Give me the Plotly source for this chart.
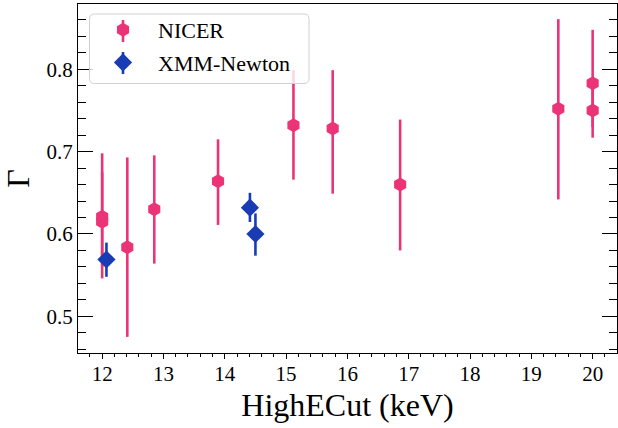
import plotly.graph_objects as go

# NICER data
nicer_x = [12.0, 12.0, 12.41, 12.85, 13.89, 15.12, 15.76, 16.86, 19.44, 20.0, 20.0]
nicer_y = [0.621, 0.615, 0.584, 0.630, 0.664, 0.732, 0.728, 0.660, 0.752, 0.783, 0.750]
nicer_hi = [0.698, 0.675, 0.693, 0.6955, 0.715, 0.799, 0.799, 0.739, 0.861, 0.848, 0.780]
nicer_lo = [0.560, 0.546, 0.475, 0.564, 0.611, 0.666, 0.649, 0.580, 0.642, 0.730, 0.717]

# XMM-Newton data
xmm_x = [12.07, 14.41, 14.50]
xmm_y = [0.569, 0.632, 0.600]
xmm_hi = [0.5895, 0.650, 0.625]
xmm_lo = [0.548, 0.6146, 0.5737]

PINK = "#EB3478"
BLUE = "#193CB4"
FONT = "Liberation Serif"

W, H = 618, 428
ML, MR, MT, MB = 78, 1, 4, 75
PW, PH = W - ML - MR, H - MT - MB


def px(x):
    return (x - ML) / PW


def py(y):
    return (H - MB - y) / PH


fig = go.Figure()
fig.add_trace(go.Scatter(
    x=nicer_x, y=nicer_y, mode="markers", name="NICER", legendgroup="a",
    marker=dict(symbol="hexagon", size=14, color=PINK),
    error_y=dict(type="data", symmetric=False,
                 array=[h - y for h, y in zip(nicer_hi, nicer_y)],
                 arrayminus=[y - l for l, y in zip(nicer_lo, nicer_y)],
                 thickness=2.6, width=0, color=PINK),
))
fig.add_trace(go.Scatter(
    x=xmm_x, y=xmm_y, mode="markers", name="XMM-Newton", legendgroup="b",
    marker=dict(symbol="diamond", size=14, color=BLUE),
    error_y=dict(type="data", symmetric=False,
                 array=[h - y for h, y in zip(xmm_hi, xmm_y)],
                 arrayminus=[y - l for l, y in zip(xmm_lo, xmm_y)],
                 thickness=2.6, width=0, color=BLUE),
))

# rounded, semi-transparent legend frame
x0, x1, y0, y1, r = 89.5, 309, 14, 83.5, 5
path = (f"M{px(x0 + r)},{py(y0)} L{px(x1 - r)},{py(y0)} Q{px(x1)},{py(y0)} {px(x1)},{py(y0 + r)} "
        f"L{px(x1)},{py(y1 - r)} Q{px(x1)},{py(y1)} {px(x1 - r)},{py(y1)} "
        f"L{px(x0 + r)},{py(y1)} Q{px(x0)},{py(y1)} {px(x0)},{py(y1 - r)} "
        f"L{px(x0)},{py(y0 + r)} Q{px(x0)},{py(y0)} {px(x0 + r)},{py(y0)} Z")
shapes = [dict(type="path", xref="paper", yref="paper", path=path,
               fillcolor="rgba(255,255,255,0.8)", line=dict(color="#d0d0d0", width=1),
               layer="above")]
# error-bar strokes of the legend handles
for cx, cy, col in [(123, 31, PINK), (123, 63, BLUE)]:
    shapes.append(dict(type="line", xref="paper", yref="paper",
                       x0=px(cx), x1=px(cx), y0=py(cy - 11), y1=py(cy + 11),
                       line=dict(color=col, width=2.6), layer="above"))

fig.update_layout(
    width=W, height=H,
    margin=dict(l=ML, r=MR, t=MT, b=MB),
    paper_bgcolor="white", plot_bgcolor="white",
    font=dict(family=FONT, color="black", size=21),
    showlegend=True,
    shapes=shapes,
    legend=dict(x=px(88), y=py(9), xanchor="left", yanchor="top",
                bgcolor="rgba(0,0,0,0)", borderwidth=0,
                font=dict(family=FONT, size=22), itemwidth=60, tracegroupgap=1),
)
fig.update_xaxes(
    range=[11.606, 20.397], dtick=1, tick0=12,
    ticks="outside", ticklen=5, tickwidth=1.2, tickcolor="black",
    minor=dict(dtick=0.2, ticks="outside", ticklen=3, tickwidth=1, tickcolor="black"),
    showline=True, linecolor="black", linewidth=1.2, mirror=True,
    showgrid=False, zeroline=False, ticklabelstandoff=-3,
    title=dict(text="HighECut (keV)", font=dict(family=FONT, size=32), standoff=8),
)
fig.update_yaxes(
    range=[0.4554, 0.8794], dtick=0.1, tick0=0.5, tickformat=".1f",
    ticks="inside", ticklen=15, tickwidth=1.2, tickcolor="black",
    minor=dict(dtick=0.02, ticks="inside", ticklen=7.5, tickwidth=1, tickcolor="black"),
    showline=True, linecolor="black", linewidth=1.2, mirror="allticks",
    showgrid=False, zeroline=False,
    title=dict(text="Γ", font=dict(family=FONT, size=32), standoff=10),
)

fig.write_html("out.html")
